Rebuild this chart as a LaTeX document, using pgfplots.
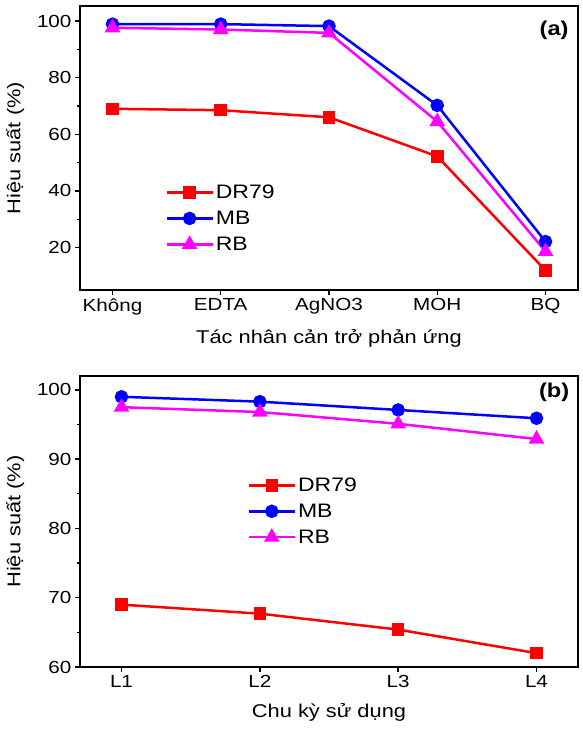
\documentclass[border=0pt]{standalone}
\usepackage{fontspec}
\setmainfont{Liberation Sans}[FakeStretch=1.18]
\usepackage{pgfplots}
\pgfplotsset{compat=1.18}
\definecolor{cred}{RGB}{255,0,0}
\definecolor{cblue}{RGB}{0,0,255}
\definecolor{cmag}{RGB}{255,0,255}
\pgfplotsset{mystyle/.style={
  scale only axis, width=498pt,
  axis line style={line width=2pt},
  tick align=outside, xtick pos=bottom, ytick pos=left,
  major tick length=5pt, minor tick length=3pt,
  tick style={line width=1.4pt, black},
  minor y tick num=1,
  ticklabel style={font=\fontsize{17.5}{20}\selectfont},
  /pgf/number format/assume math mode=true,
  label style={font=\fontsize{18.5}{22}\selectfont},
  every axis plot/.append style={line width=2.5pt},
  legend style={draw=none, fill=none, font=\fontsize{19.5}{22}\selectfont, row sep=7pt, anchor=north west},
  legend cell align=left,
  legend image code/.code={\draw[mark repeat=2,mark phase=2] plot coordinates {(0pt,0pt)(23pt,0pt)(46pt,0pt)};},
}}
\begin{document}
\begin{tikzpicture}
\useasboundingbox (-80pt,6pt) rectangle (502pt,-723pt);
\begin{axis}[mystyle, height=284pt, at={(0pt,0pt)}, anchor=north west,
  xmin=-0.3, xmax=4.3, ymin=5, ymax=105.3,
  xtick={0,1,2,3,4}, xticklabels={Không,EDTA,AgNO3,MOH,BQ},
  ytick={20,40,60,80,100},
  xlabel={Tác nhân cản trở phản ứng}, ylabel={Hiệu suất (\%)},
  xlabel style={at={(axis description cs:0.5,-0.17)}, anchor=center},
  ylabel style={at={(axis description cs:-0.13,0.5)}, anchor=center},
  legend style={at={(axis description cs:0.165,0.385)}},
]
\addplot[color=cred, mark=square*, mark size=5pt] coordinates {(0,69.0) (1,68.5) (2,66.0) (3,52.2) (4,11.9)};
\addlegendentry{DR79}
\addplot[color=cblue, mark=*, mark size=5.5pt] coordinates {(0,98.9) (1,98.9) (2,98.2) (3,70.2) (4,22.1)};
\addlegendentry{MB}
\addplot[color=cmag, mark=triangle*, mark size=6.5pt] coordinates {(0,97.6) (1,97.0) (2,95.8) (3,64.5) (4,18.6)};
\addlegendentry{RB}
\node[font=\bfseries\fontsize{20}{22}\selectfont] at (axis description cs:0.952,0.915) {(a)};
\end{axis}
\begin{axis}[mystyle, height=291pt, at={(0pt,-370pt)}, anchor=north west,
  xmin=-0.3, xmax=3.3, ymin=60, ymax=102,
  xtick={0,1,2,3}, xticklabels={L1,L2,L3,L4},
  ytick={60,70,80,90,100},
  xlabel={Chu kỳ sử dụng}, ylabel={Hiệu suất (\%)},
  xlabel style={at={(axis description cs:0.5,-0.155)}, anchor=center},
  ylabel style={at={(axis description cs:-0.13,0.5)}, anchor=center},
  legend style={at={(axis description cs:0.33,0.665)}},
]
\addplot[color=cred, mark=square*, mark size=5pt] coordinates {(0,69.0) (1,67.7) (2,65.4) (3,62.0)};
\addlegendentry{DR79}
\addplot[color=cblue, mark=*, mark size=5.5pt] coordinates {(0,99.0) (1,98.3) (2,97.1) (3,95.9)};
\addlegendentry{MB}
\addplot[color=cmag, mark=triangle*, mark size=6.5pt] coordinates {(0,97.5) (1,96.8) (2,95.1) (3,92.9)};
\addlegendentry{RB}
\node[font=\bfseries\fontsize{20}{22}\selectfont] at (axis description cs:0.952,0.945) {(b)};
\end{axis}
\end{tikzpicture}
\end{document}
